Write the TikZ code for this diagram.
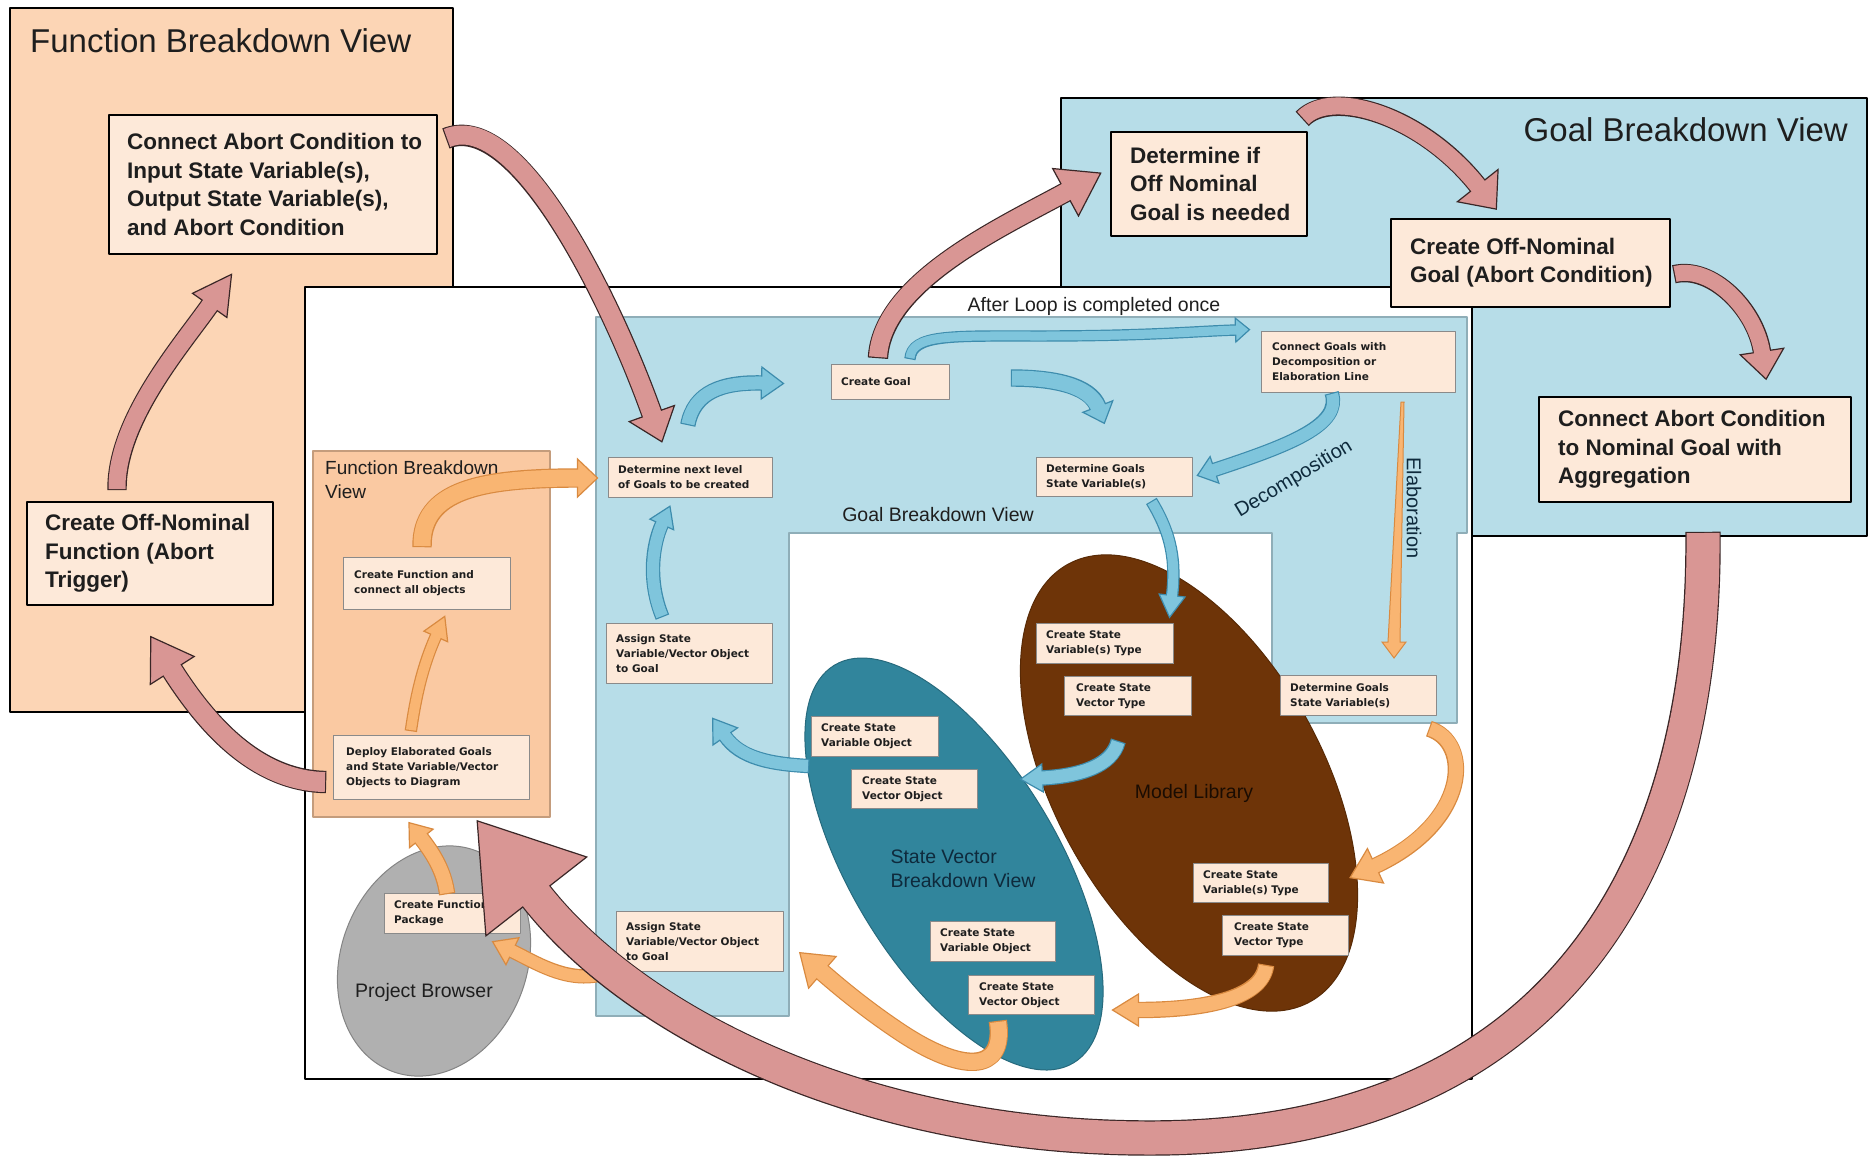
\documentclass[tikz,border=0pt]{standalone}
\usepackage{fontspec}
\setmainfont{Liberation Sans}
\newfontfamily\boxfont{DejaVu Sans}
\usetikzlibrary{decorations.markings}

\definecolor{peach}{HTML}{FDE9D9}
\definecolor{boxedge}{HTML}{8A8A8A}
\definecolor{fbvouter}{HTML}{FCD5B5}
\definecolor{fbvinner}{HTML}{FAC9A2}
\definecolor{fbvedge}{HTML}{C49C7C}
\definecolor{gbv}{HTML}{B7DDE8}
\definecolor{gbvedge}{HTML}{8FAEB8}
\definecolor{svteal}{HTML}{31859C}
\definecolor{svtext}{HTML}{0E2A3C}
\definecolor{libbrown}{HTML}{6E3408}
\definecolor{libtext}{HTML}{1A0C02}
\definecolor{browsergray}{HTML}{B0B0B0}
\definecolor{redfill}{HTML}{D99694}
\definecolor{rededge}{HTML}{3A2626}
\definecolor{orfill}{HTML}{F9B572}
\definecolor{oredge}{HTML}{D98A40}
\definecolor{blfill}{HTML}{7FC5DC}
\definecolor{bledge}{HTML}{3D8CAD}
\definecolor{ink}{HTML}{1E1E1E}

% block arrow: #1 fill, #2 edge, #3 shaft width, #4 head half width, #5 head length, #6 path
\newcommand\blockarrow[6]{%
  \draw[line width=#3+2.4pt, #2, shorten <=-1.2pt] #6;
  \path[postaction={decorate}, decoration={markings, mark=at position -0.5pt with {%
      \filldraw[fill=#1, draw=#2, line width=1.2pt, line join=miter]
        (0pt,#4) -- (#5,0pt) -- (0pt,-#4) -- cycle;}}] #6;
  \draw[line width=#3, #1, shorten >=-1.6pt] #6;
}
\newcommand\redarrow[4]{\blockarrow{redfill}{rededge}{#1}{#2}{#3}{#4}}
\newcommand\orarrow[4]{\blockarrow{orfill}{oredge}{#1}{#2}{#3}{#4}}
\newcommand\blarrow[4]{\blockarrow{blfill}{bledge}{#1}{#2}{#3}{#4}}

% box with left-set text: #1 style, #2 name, #3 NW corner, #4 width, #5 height, #6 text indent, #7 text
\newcommand\tbox[7]{%
  \node[#1, minimum width=#4, minimum height=#5, anchor=north west] (#2) at (#3) {};
  \node[#1text, anchor=west] (#2-t) at ([xshift=#6]#2.west) {#7};
}

\tikzset{
  sbox/.style={draw=boxedge, line width=1.1pt, fill=peach, inner sep=0pt},
  sboxtext/.style={inner sep=0pt, align=left, text=ink, font=\boxfont\bfseries\fontsize{10.5}{15}\selectfont},
  bbox/.style={draw=black, line width=1.8pt, fill=peach, inner sep=0pt},
  bboxtext/.style={inner sep=0pt, align=left, text=ink, font=\bfseries\fontsize{22.5}{28.5}\selectfont},
  viewtitle/.style={inner sep=0pt, text=ink, font=\fontsize{33}{38}\selectfont},
  midlabel/.style={inner sep=0pt, text=ink, font=\fontsize{19.5}{24}\selectfont},
  panel/.style={draw=black, line width=1.5pt},
}

\begin{document}
\begin{tikzpicture}[x=1pt, y=-1pt, line join=round]
\fill[white] (0,0) rectangle (1869,1157);
\useasboundingbox (0,0) rectangle (1869,1157);

% outer function breakdown panel
\draw[panel, fill=fbvouter] (10,8) rectangle (453,712);
\node[viewtitle, anchor=base west] (fbvtitle) at (30,52) {Function Breakdown View};

% outer goal breakdown panel
\draw[panel, fill=gbv] (1061,98) rectangle (1867,536);
\node[viewtitle, anchor=base east] (gbvtitle) at (1848,141) {Goal Breakdown View};

% central workspace
\draw[panel, fill=white] (305,287) rectangle (1472,1079);
\node[midlabel, anchor=base] (loopnote) at (1094,311) {After Loop is completed once};

% inner goal breakdown region
\draw[draw=gbvedge, line width=1.2pt, fill=gbv]
  (596,317) -- (1467,317) -- (1467,533) -- (1457,533) -- (1457,723) -- (1272,723)
  -- (1272,533) -- (789,533) -- (789,1016) -- (596,1016) -- cycle;
\node[midlabel, anchor=base] (innergbv) at (938,521) {Goal Breakdown View};

% inner function breakdown region
\draw[draw=fbvedge, line width=1.2pt, fill=fbvinner] (313,451) rectangle (550,817);
\node[midlabel, anchor=north west, align=left, font=\fontsize{19}{24}\selectfont] (innerfbv) at (325,461) {Function Breakdown\\View};

% project browser, state vector view, model library
\draw[fill=browsergray, draw=browsergray!75!black, line width=1pt, rotate around={-21:(434,961)}]
  (434,961) ellipse [x radius=93pt, y radius=118pt];
\node[midlabel] (pb) at (424,992) {Project Browser};
\draw[fill=svteal, draw=svteal!80!black, line width=1pt, rotate around={31:(954,864)}]
  (954,864) ellipse [x radius=104pt, y radius=232pt];
\node[midlabel, align=left, text=svtext] (svlabel) at (963,869) {State Vector\\Breakdown View};
\draw[fill=libbrown, draw=libbrown!80!black, line width=1pt, rotate around={29:(1189,783)}]
  (1189,783) ellipse [x radius=134pt, y radius=250pt];
\node[midlabel, text=libtext] (mllabel) at (1194,793) {Model Library};

% step boxes
\tbox{sbox}{cg}{831,364}{118pt}{35pt}{10pt}{Create Goal}
\tbox{sbox}{cgl}{1261,331}{194pt}{61pt}{11pt}{Connect Goals with\\Decomposition or\\Elaboration Line}
\tbox{sbox}{dnl}{608,457}{164pt}{40pt}{10pt}{Determine next level\\of Goals to be created}
\tbox{sbox}{dgsa}{1036,457}{156pt}{39pt}{10pt}{Determine Goals\\State Variable(s)}
\tbox{sbox}{asva}{606,623}{166pt}{60pt}{10pt}{Assign State\\Variable/Vector Object\\to Goal}
\tbox{sbox}{csta}{1036,623}{137pt}{40pt}{10pt}{Create State\\Variable(s) Type}
\tbox{sbox}{cvta}{1064,676}{127pt}{39pt}{12pt}{Create State\\Vector Type}
\tbox{sbox}{dgsb}{1280,675}{156pt}{40pt}{10pt}{Determine Goals\\State Variable(s)}
\tbox{sbox}{cvoa}{811,716}{127pt}{40pt}{10pt}{Create State\\Variable Object}
\tbox{sbox}{cveca}{851,769}{126pt}{39pt}{11pt}{Create State\\Vector Object}
\tbox{sbox}{cstb}{1193,863}{135pt}{39pt}{10pt}{Create State\\Variable(s) Type}
\tbox{sbox}{cvtb}{1222,915}{126pt}{40pt}{12pt}{Create State\\Vector Type}
\tbox{sbox}{cvob}{930,921}{125pt}{40pt}{10pt}{Create State\\Variable Object}
\tbox{sbox}{cvecb}{968,975}{126pt}{39pt}{11pt}{Create State\\Vector Object}
\tbox{sbox}{asvb}{616,911}{167pt}{60pt}{10pt}{Assign State\\Variable/Vector Object\\to Goal}
\tbox{sbox}{cfp}{384,893}{136pt}{40pt}{10pt}{Create Function\\Package}
\tbox{sbox}{cfc}{343,557}{167pt}{52pt}{11pt}{Create Function and\\connect all objects}
\tbox{sbox}{deg}{333,735}{196pt}{64pt}{13pt}{Deploy Elaborated Goals\\and State Variable/Vector\\Objects to Diagram}

% off-nominal steps
\tbox{bbox}{acon}{108,114}{328pt}{139pt}{19pt}{Connect Abort Condition to\\Input State Variable(s),\\Output State Variable(s),\\and Abort Condition}
\tbox{bbox}{onf}{26,501}{246pt}{103pt}{19pt}{Create Off-Nominal\\Function (Abort\\Trigger)}
\tbox{bbox}{dif}{1110,131}{196pt}{104pt}{20pt}{Determine if\\Off Nominal\\Goal is needed}
\tbox{bbox}{ong}{1390,218}{279pt}{88pt}{20pt}{Create Off-Nominal\\Goal (Abort Condition)}
\tbox{bbox}{cag}{1538,396}{312pt}{105pt}{20pt}{Connect Abort Condition\\to Nominal Goal with\\Aggregation}

% goal loop (blue)
\blarrow{13pt}{16pt}{22pt}{(688,424) .. controls (694,392) and (722,382) .. (762,383)}
\blarrow{15pt}{16pt}{18pt}{(1012,378) .. controls (1052,378) and (1090,385) .. (1098,407)}
\blarrow{9pt}{12pt}{14pt}{(910,358) .. controls (912,334) and (950,336) .. (1040,336) .. controls (1150,336) and (1200,331) .. (1236,330)}
\blarrow{12pt}{14pt}{18pt}{(1332,394) .. controls (1342,425) and (1290,445) .. (1214,470)}
\blarrow{10pt}{13pt}{22pt}{(1152,502) .. controls (1172,535) and (1176,562) .. (1172,596)}
\blarrow{12pt}{13pt}{20pt}{(662,616) .. controls (648,582) and (652,546) .. (662,524)}
\blarrow{12pt}{15pt}{22pt}{(808,766) .. controls (770,764) and (740,758) .. (725,736)}
\blarrow{13pt}{14pt}{22pt}{(1118,742) .. controls (1112,766) and (1080,776) .. (1042,778)}
\node[midlabel, rotate=31, font=\fontsize{20}{24}\selectfont, text=svtext] (decomp) at (1294,479) {Decomposition};

% elaboration path (orange)
\filldraw[fill=orfill, draw=oredge, line width=1pt, line join=miter]
  (1401,402) -- (1404,402) -- (1400,642) -- (1406,642) -- (1394,658) -- (1382,642) -- (1388,642) -- cycle;
\node[midlabel, rotate=-90, font=\fontsize{20}{24}\selectfont, text=svtext] (elab) at (1414,508) {Elaboration};
\orarrow{17pt}{19pt}{20pt}{(422,546) .. controls (421,490) and (480,478) .. (578,478)}
\orarrow{10pt}{13pt}{22pt}{(411,730) .. controls (416,695) and (423,665) .. (436,636)}
\orarrow{14pt}{15pt}{20pt}{(447,893) .. controls (444,870) and (432,852) .. (421,838)}
\orarrow{12pt}{15pt}{22pt}{(598,975) .. controls (565,982) and (535,962) .. (512,951)}
\orarrow{16pt}{21pt}{30pt}{(998,1022) .. controls (1006,1075) and (960,1072) .. (900,1032) .. controls (870,1012) and (845,992) .. (822,972)}
\orarrow{14pt}{16pt}{26pt}{(1266,966) .. controls (1262,1000) and (1200,1010) .. (1138,1010)}
\orarrow{14pt}{19pt}{28pt}{(1430,729) .. controls (1472,742) and (1470,822) .. (1375,866)}

% off-nominal loop (red)
\redarrow{17pt}{21pt}{38pt}{(117,489) .. controls (116,420) and (182,345) .. (210,305)}
\redarrow{20pt}{26pt}{40pt}{(325,782) .. controls (255,781) and (205,722) .. (172,670)}
\redarrow{19pt}{24pt}{30pt}{(447,138) .. controls (520,108) and (615,310) .. (652,414)}
\redarrow{18pt}{27pt}{40pt}{(878,357) .. controls (882,282) and (1000,228) .. (1066,192)}
\redarrow{17pt}{26pt}{30pt}{(1303,118) .. controls (1332,88) and (1422,115) .. (1478,186)}
\redarrow{16pt}{22pt}{28pt}{(1675,274) .. controls (1712,265) and (1756,310) .. (1762,352)}
\redarrow{33pt}{64pt}{96pt}{(1703,533) .. controls (1706,900) and (1530,1138) .. (1150,1138) .. controls (850,1138) and (628,1014) .. (536,896)}
\end{tikzpicture}
\end{document}
